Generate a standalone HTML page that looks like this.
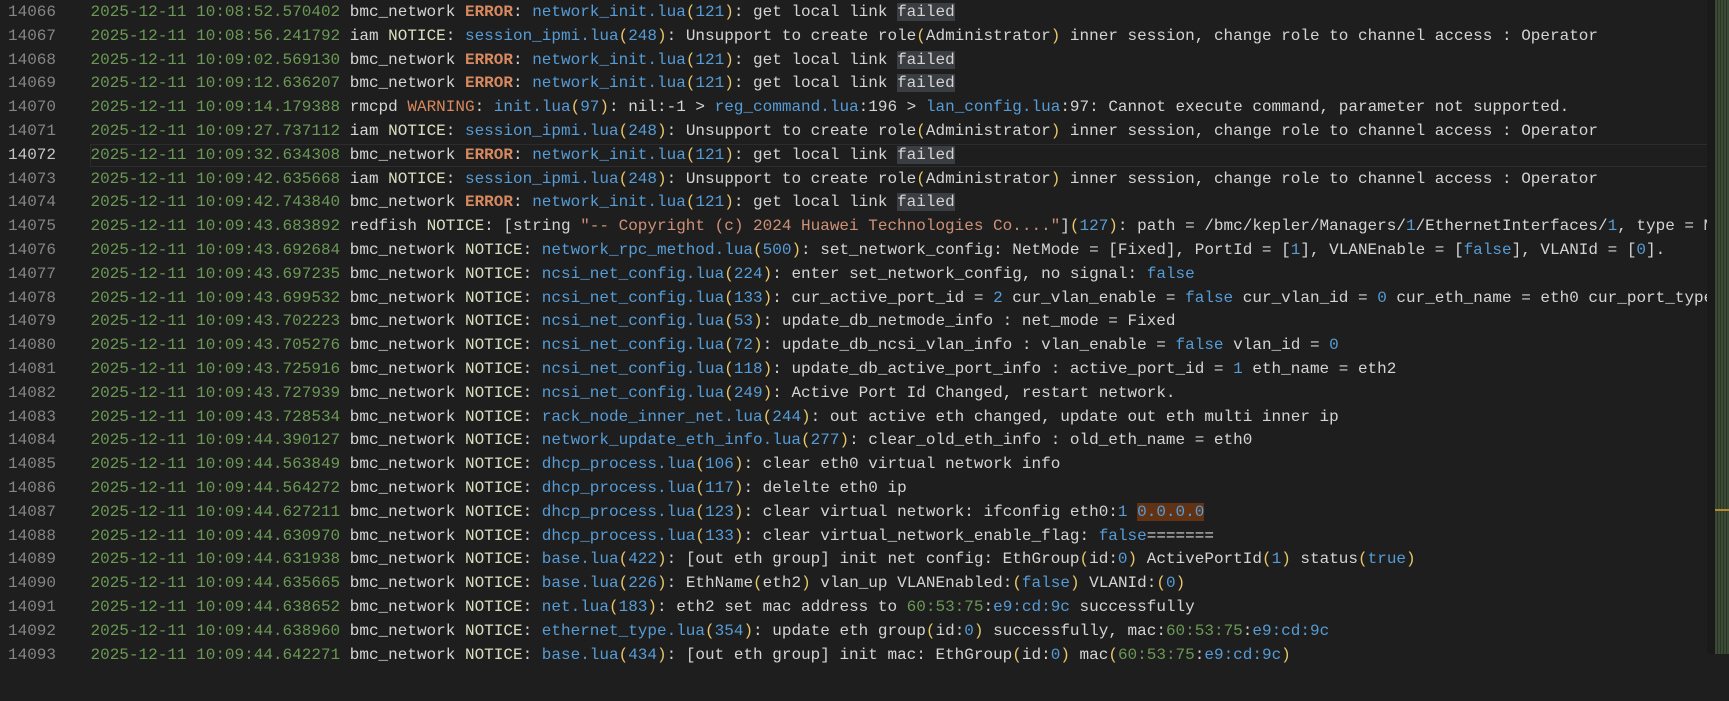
<!DOCTYPE html>
<html><head><meta charset="utf-8"><style>
body{margin:0;width:1729px;height:654px;background:#1e1e1e;overflow:hidden;position:relative;font-family:"Liberation Mono",monospace;font-size:16px;}
.ln{position:absolute;left:0;width:56px;text-align:right;color:#858585;}
.ln div,.tx div{height:23.8px;line-height:23.8px;white-space:pre;}
.ln .cur{color:#c6c6c6}
.tx{position:absolute;left:90.5px;width:1616px;overflow:hidden;color:#d4d4d4;}
.wrap{position:absolute;top:1px;left:0;width:1729px;height:700px}
.g{color:#6a9955}.e{color:#d7895f;font-weight:bold}.w{color:#d7895f}.b{color:#569cd6}.p{color:#e8c66a}.n{color:#d8e0c0}.s{color:#ce9178}
.f{background:#3a3d41}.h{background:#613214}
.curline{position:absolute;left:90px;width:1616px;top:143.5px;height:21px;border:1px solid #2c2c2c;}
.strip{position:absolute;left:1707px;top:0;width:8px;height:654px;background:#1a1a1a}
.mini{position:absolute;left:1715px;top:0;width:14px;height:654px;background:repeating-linear-gradient(90deg,#3b4a34 0 2px,#2b3527 2px 3px)}
</style></head><body>
<div class="curline"></div>
<div class="wrap">
<div class="ln">
<div>14066</div><div>14067</div><div>14068</div><div>14069</div><div>14070</div><div>14071</div><div class="cur">14072</div><div>14073</div><div>14074</div><div>14075</div><div>14076</div><div>14077</div><div>14078</div><div>14079</div><div>14080</div><div>14081</div><div>14082</div><div>14083</div><div>14084</div><div>14085</div><div>14086</div><div>14087</div><div>14088</div><div>14089</div><div>14090</div><div>14091</div><div>14092</div><div>14093</div>
</div>
<div class="tx">
<div><span class="g">2025-12-11 10:08:52.570402</span> bmc_network <span class="e">ERROR</span>: <span class="b">network_init.lua</span><span class="p">(</span><span class="b">121</span><span class="p">)</span>: get local link <span class="f">failed</span></div>
<div><span class="g">2025-12-11 10:08:56.241792</span> iam <span class="n">NOTICE</span>: <span class="b">session_ipmi.lua</span><span class="p">(</span><span class="b">248</span><span class="p">)</span>: Unsupport to create role<span class="p">(</span>Administrator<span class="p">)</span> inner session, change role to channel access : Operator</div>
<div><span class="g">2025-12-11 10:09:02.569130</span> bmc_network <span class="e">ERROR</span>: <span class="b">network_init.lua</span><span class="p">(</span><span class="b">121</span><span class="p">)</span>: get local link <span class="f">failed</span></div>
<div><span class="g">2025-12-11 10:09:12.636207</span> bmc_network <span class="e">ERROR</span>: <span class="b">network_init.lua</span><span class="p">(</span><span class="b">121</span><span class="p">)</span>: get local link <span class="f">failed</span></div>
<div><span class="g">2025-12-11 10:09:14.179388</span> rmcpd <span class="w">WARNING</span>: <span class="b">init.lua</span><span class="p">(</span><span class="b">97</span><span class="p">)</span>: nil:-1 &gt; <span class="b">reg_command.lua</span>:196 &gt; <span class="b">lan_config.lua</span>:97: Cannot execute command, parameter not supported.</div>
<div><span class="g">2025-12-11 10:09:27.737112</span> iam <span class="n">NOTICE</span>: <span class="b">session_ipmi.lua</span><span class="p">(</span><span class="b">248</span><span class="p">)</span>: Unsupport to create role<span class="p">(</span>Administrator<span class="p">)</span> inner session, change role to channel access : Operator</div>
<div><span class="g">2025-12-11 10:09:32.634308</span> bmc_network <span class="e">ERROR</span>: <span class="b">network_init.lua</span><span class="p">(</span><span class="b">121</span><span class="p">)</span>: get local link <span class="f">failed</span></div>
<div><span class="g">2025-12-11 10:09:42.635668</span> iam <span class="n">NOTICE</span>: <span class="b">session_ipmi.lua</span><span class="p">(</span><span class="b">248</span><span class="p">)</span>: Unsupport to create role<span class="p">(</span>Administrator<span class="p">)</span> inner session, change role to channel access : Operator</div>
<div><span class="g">2025-12-11 10:09:42.743840</span> bmc_network <span class="e">ERROR</span>: <span class="b">network_init.lua</span><span class="p">(</span><span class="b">121</span><span class="p">)</span>: get local link <span class="f">failed</span></div>
<div><span class="g">2025-12-11 10:09:43.683892</span> redfish <span class="n">NOTICE</span>: [string <span class="s">"-- Copyright (c) 2024 Huawei Technologies Co...."</span>]<span class="p">(</span><span class="b">127</span><span class="p">)</span>: path = /bmc/kepler/Managers/<span class="b">1</span>/EthernetInterfaces/<span class="b">1</span>, type = Mode</div>
<div><span class="g">2025-12-11 10:09:43.692684</span> bmc_network <span class="n">NOTICE</span>: <span class="b">network_rpc_method.lua</span><span class="p">(</span><span class="b">500</span><span class="p">)</span>: set_network_config: NetMode = [Fixed], PortId = [<span class="b">1</span>], VLANEnable = [<span class="b">false</span>], VLANId = [<span class="b">0</span>].</div>
<div><span class="g">2025-12-11 10:09:43.697235</span> bmc_network <span class="n">NOTICE</span>: <span class="b">ncsi_net_config.lua</span><span class="p">(</span><span class="b">224</span><span class="p">)</span>: enter set_network_config, no signal: <span class="b">false</span></div>
<div><span class="g">2025-12-11 10:09:43.699532</span> bmc_network <span class="n">NOTICE</span>: <span class="b">ncsi_net_config.lua</span><span class="p">(</span><span class="b">133</span><span class="p">)</span>: cur_active_port_id = <span class="b">2</span> cur_vlan_enable = <span class="b">false</span> cur_vlan_id = <span class="b">0</span> cur_eth_name = eth0 cur_port_type = 1</div>
<div><span class="g">2025-12-11 10:09:43.702223</span> bmc_network <span class="n">NOTICE</span>: <span class="b">ncsi_net_config.lua</span><span class="p">(</span><span class="b">53</span><span class="p">)</span>: update_db_netmode_info : net_mode = Fixed</div>
<div><span class="g">2025-12-11 10:09:43.705276</span> bmc_network <span class="n">NOTICE</span>: <span class="b">ncsi_net_config.lua</span><span class="p">(</span><span class="b">72</span><span class="p">)</span>: update_db_ncsi_vlan_info : vlan_enable = <span class="b">false</span> vlan_id = <span class="b">0</span></div>
<div><span class="g">2025-12-11 10:09:43.725916</span> bmc_network <span class="n">NOTICE</span>: <span class="b">ncsi_net_config.lua</span><span class="p">(</span><span class="b">118</span><span class="p">)</span>: update_db_active_port_info : active_port_id = <span class="b">1</span> eth_name = eth2</div>
<div><span class="g">2025-12-11 10:09:43.727939</span> bmc_network <span class="n">NOTICE</span>: <span class="b">ncsi_net_config.lua</span><span class="p">(</span><span class="b">249</span><span class="p">)</span>: Active Port Id Changed, restart network.</div>
<div><span class="g">2025-12-11 10:09:43.728534</span> bmc_network <span class="n">NOTICE</span>: <span class="b">rack_node_inner_net.lua</span><span class="p">(</span><span class="b">244</span><span class="p">)</span>: out active eth changed, update out eth multi inner ip</div>
<div><span class="g">2025-12-11 10:09:44.390127</span> bmc_network <span class="n">NOTICE</span>: <span class="b">network_update_eth_info.lua</span><span class="p">(</span><span class="b">277</span><span class="p">)</span>: clear_old_eth_info : old_eth_name = eth0</div>
<div><span class="g">2025-12-11 10:09:44.563849</span> bmc_network <span class="n">NOTICE</span>: <span class="b">dhcp_process.lua</span><span class="p">(</span><span class="b">106</span><span class="p">)</span>: clear eth0 virtual network info</div>
<div><span class="g">2025-12-11 10:09:44.564272</span> bmc_network <span class="n">NOTICE</span>: <span class="b">dhcp_process.lua</span><span class="p">(</span><span class="b">117</span><span class="p">)</span>: delelte eth0 ip</div>
<div><span class="g">2025-12-11 10:09:44.627211</span> bmc_network <span class="n">NOTICE</span>: <span class="b">dhcp_process.lua</span><span class="p">(</span><span class="b">123</span><span class="p">)</span>: clear virtual network: ifconfig eth0:<span class="b">1</span> <span class="h"><span class="b">0.0.0.0</span></span></div>
<div><span class="g">2025-12-11 10:09:44.630970</span> bmc_network <span class="n">NOTICE</span>: <span class="b">dhcp_process.lua</span><span class="p">(</span><span class="b">133</span><span class="p">)</span>: clear virtual_network_enable_flag: <span class="b">false</span>=======</div>
<div><span class="g">2025-12-11 10:09:44.631938</span> bmc_network <span class="n">NOTICE</span>: <span class="b">base.lua</span><span class="p">(</span><span class="b">422</span><span class="p">)</span>: [out eth group] init net config: EthGroup<span class="p">(</span>id:<span class="b">0</span><span class="p">)</span> ActivePortId<span class="p">(</span><span class="b">1</span><span class="p">)</span> status<span class="p">(</span><span class="b">true</span><span class="p">)</span></div>
<div><span class="g">2025-12-11 10:09:44.635665</span> bmc_network <span class="n">NOTICE</span>: <span class="b">base.lua</span><span class="p">(</span><span class="b">226</span><span class="p">)</span>: EthName<span class="p">(</span>eth2<span class="p">)</span> vlan_up VLANEnabled:<span class="p">(</span><span class="b">false</span><span class="p">)</span> VLANId:<span class="p">(</span><span class="b">0</span><span class="p">)</span></div>
<div><span class="g">2025-12-11 10:09:44.638652</span> bmc_network <span class="n">NOTICE</span>: <span class="b">net.lua</span><span class="p">(</span><span class="b">183</span><span class="p">)</span>: eth2 set mac address to <span class="g">60:53:75</span>:<span class="b">e9:cd:9c</span> successfully</div>
<div><span class="g">2025-12-11 10:09:44.638960</span> bmc_network <span class="n">NOTICE</span>: <span class="b">ethernet_type.lua</span><span class="p">(</span><span class="b">354</span><span class="p">)</span>: update eth group<span class="p">(</span>id:<span class="b">0</span><span class="p">)</span> successfully, mac:<span class="g">60:53:75</span>:<span class="b">e9:cd:9c</span></div>
<div><span class="g">2025-12-11 10:09:44.642271</span> bmc_network <span class="n">NOTICE</span>: <span class="b">base.lua</span><span class="p">(</span><span class="b">434</span><span class="p">)</span>: [out eth group] init mac: EthGroup<span class="p">(</span>id:<span class="b">0</span><span class="p">)</span> mac<span class="p">(</span><span class="g">60:53:75</span>:<span class="b">e9:cd:9c</span><span class="p">)</span></div>
</div>
</div>
<div class="strip"></div>
<div class="mini"></div>
<div style="position:absolute;left:1715px;top:509px;width:14px;height:2px;background:#b8862b"></div>
</body></html>
